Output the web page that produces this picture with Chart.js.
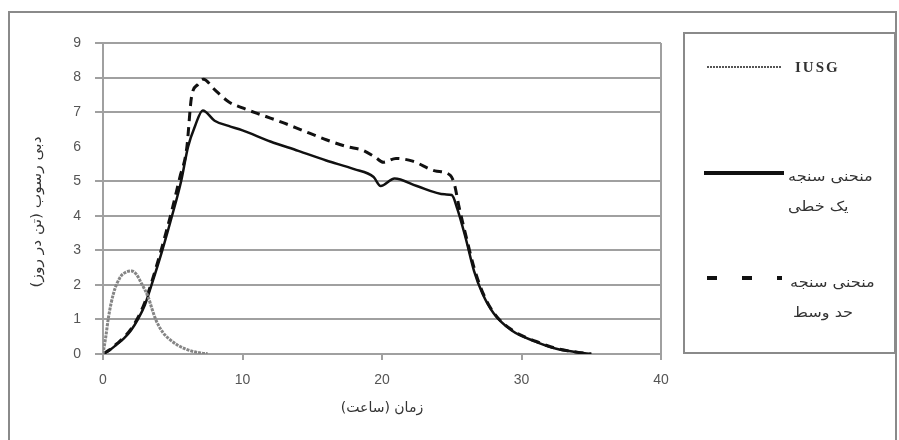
<!DOCTYPE html>
<html>
<head>
<meta charset="utf-8">
<script src="https://cdn.jsdelivr.net/npm/chart.js@4.4.1/dist/chart.umd.min.js"></script>
<style>
  html, body { margin: 0; padding: 0; background: #fff; }
  #wrap { width: 899px; height: 440px; position: relative; }
</style>
</head>
<body>
<div id="wrap"><canvas id="chart" width="899" height="440"></canvas></div>
<script>
// داده‌ها (خوانده شده از نمودار)
const xTicks = [0, 10, 20, 30, 40];
const yTicks = [0, 1, 2, 3, 4, 5, 6, 7, 8, 9];

const iusgX = [0, 0.2, 0.4, 0.75, 1.2, 1.6, 2.05, 2.4, 2.76, 3.24, 3.5, 3.83, 4.3, 4.7, 5.3, 5.9, 6.5, 7.0, 7.5];
const iusgY = [0, 0.5, 1.08, 1.75, 2.2, 2.36, 2.4, 2.3, 2.04, 1.65, 1.32, 0.95, 0.62, 0.45, 0.27, 0.15, 0.07, 0.03, 0.01];

const solidX = [0, 0.5, 1, 1.5, 2, 2.5, 3, 3.48, 4.25, 4.95, 5.6, 6.1, 6.6, 7.15, 8, 9, 10, 12, 14, 16, 18, 19.4, 19.9, 20.9, 22.5, 24.5, 25, 25.4, 26, 26.6, 27.2, 28, 29.3, 31, 32.5, 34, 35];
const solidY = [0, 0.12, 0.28, 0.45, 0.68, 1.0, 1.42, 2.0, 3.0, 4.0, 5.0, 6.0, 6.6, 7.05, 6.75, 6.6, 6.47, 6.15, 5.88, 5.6, 5.35, 5.12, 4.86, 5.08, 4.86, 4.62, 4.6, 4.2, 3.35, 2.4, 1.75, 1.18, 0.68, 0.36, 0.15, 0.05, 0];

const dashedX = [0, 0.5, 1, 1.5, 2, 2.5, 3, 3.5, 4.2, 4.9, 5.5, 6.0, 6.35, 6.8, 7.2, 8, 9, 10, 11.5, 13, 14.3, 16, 17.5, 18.6, 19.5, 20.1, 21, 22.2, 23.8, 24.9, 25.2, 25.5, 26, 26.6, 27.2, 28, 29.3, 31, 32.5, 34, 35];
const dashedY = [0, 0.13, 0.3, 0.48, 0.72, 1.05, 1.5, 2.1, 3.05, 4.1, 5.1, 5.95, 7.45, 7.8, 7.95, 7.65, 7.3, 7.12, 6.9, 6.68, 6.47, 6.2, 6.0, 5.9, 5.7, 5.55, 5.66, 5.58, 5.3, 5.17, 4.9, 4.3, 3.45, 2.5, 1.8, 1.2, 0.7, 0.37, 0.16, 0.05, 0];

const xTitle = 'زمان (ساعت)';
const yTitle = 'دبی رسوب (تن در روز)';

const toPoints = (xs, ys) => xs.map((x, i) => ({ x: x, y: ys[i] }));

const gridGray = '#a0a0a0';
const labelColor = '#555';

// خط شبکه ۶ در تصویر اصلی دیده نمی‌شود
const hideSix = (c) => (c.tick && Math.round(c.tick.value) === 6) || c.index === 6;

// قاب بیرونی، عنوان محور عمودی و راهنما
const framePlugin = {
    id: 'frameAndLegend',
    afterDraw(chart) {
        const ctx = chart.ctx;
        ctx.save();
        ctx.strokeStyle = '#8a8a8a';
        ctx.lineWidth = 2;
        ctx.strokeRect(9, 12, 887, 440);

        // عنوان محور عمودی
        ctx.save();
        ctx.translate(37, 212);
        ctx.rotate(-Math.PI / 2);
        ctx.scale(1.1, 1);
        ctx.fillStyle = '#333';
        ctx.font = '14px "DejaVu Sans"';
        ctx.textAlign = 'center';
        ctx.textBaseline = 'middle';
        ctx.fillText(yTitle, 0, 0);
        ctx.restore();

        // جعبه راهنما
        ctx.strokeRect(684, 33, 211, 320);

        // IUSG
        ctx.setLineDash([2, 1]);
        ctx.strokeStyle = '#555';
        ctx.lineWidth = 2;
        ctx.beginPath(); ctx.moveTo(707, 67); ctx.lineTo(782, 67); ctx.stroke();

        // یک خطی
        ctx.setLineDash([]);
        ctx.strokeStyle = '#111';
        ctx.lineWidth = 4;
        ctx.beginPath(); ctx.moveTo(704, 173); ctx.lineTo(784, 173); ctx.stroke();

        // حد وسط
        ctx.setLineDash([10, 25]);
        ctx.beginPath(); ctx.moveTo(707, 278); ctx.lineTo(782, 278); ctx.stroke();
        ctx.setLineDash([]);

        ctx.fillStyle = '#333';
        ctx.textBaseline = 'middle';
        ctx.textAlign = 'left';
        ctx.font = 'bold 15px "Liberation Serif"';
        ctx.letterSpacing = '2px';
        ctx.fillText('IUSG', 795, 68);
        ctx.letterSpacing = '0px';

        const legendText = [
            ['منحنی سنجه', 788, 177],
            ['یک خطی', 788, 207],
            ['منحنی سنجه', 790, 283],
            ['حد وسط', 793, 313]
        ];
        ctx.font = '14px "DejaVu Sans"';
        legendText.forEach(([t, x, y]) => {
            ctx.save();
            ctx.translate(x, y);
            ctx.scale(1.15, 1);
            ctx.fillText(t, 0, 0);
            ctx.restore();
        });
        ctx.restore();
    }
};

new Chart(document.getElementById('chart').getContext('2d'), {
    type: 'line',
    data: {
        datasets: [
            {
                label: 'IUSG',
                data: toPoints(iusgX, iusgY),
                borderColor: '#858585',
                borderWidth: 3,
                borderDash: [3, 1],
                pointRadius: 0,
                cubicInterpolationMode: 'monotone'
            },
            {
                label: 'منحنی سنجه یک خطی',
                data: toPoints(solidX, solidY),
                borderColor: '#111',
                borderWidth: 2.5,
                pointRadius: 0,
                cubicInterpolationMode: 'monotone'
            },
            {
                label: 'منحنی سنجه حد وسط',
                data: toPoints(dashedX, dashedY),
                borderColor: '#111',
                borderWidth: 3,
                borderDash: [9, 6],
                pointRadius: 0,
                cubicInterpolationMode: 'monotone'
            }
        ]
    },
    options: {
        responsive: false,
        animation: false,
        layout: { padding: { left: 12, right: 238, top: 43, bottom: 20 } },
        plugins: {
            legend: { display: false },
            tooltip: { enabled: false }
        },
        scales: {
            x: {
                type: 'linear',
                min: 0,
                max: 40,
                afterBuildTicks: (axis) => { axis.ticks = xTicks.map(v => ({ value: v })); },
                afterFit: (axis) => { axis.height = 66; },
                border: { display: true, color: gridGray, width: 2 },
                grid: {
                    color: (c) => c.tick && c.tick.value === 40 ? gridGray : 'transparent',
                    lineWidth: 2,
                    tickColor: gridGray,
                    tickLength: 6
                },
                ticks: {
                    color: labelColor,
                    font: { family: '"Liberation Sans", Arial', size: 14 },
                    padding: 12,
                    maxRotation: 0
                },
                title: {
                    display: true,
                    text: xTitle,
                    color: '#333',
                    font: { family: '"DejaVu Sans"', size: 14 },
                    padding: { top: 0, bottom: 3 }
                }
            },
            y: {
                min: 0,
                max: 9,
                afterBuildTicks: (axis) => { axis.ticks = yTicks.map(v => ({ value: v })); },
                afterFit: (axis) => { axis.width = 91; },
                border: { display: true, color: gridGray, width: 2 },
                grid: {
                    color: (c) => hideSix(c) ? 'rgba(0,0,0,0)' : gridGray,
                    tickColor: (c) => hideSix(c) ? 'rgba(0,0,0,0)' : gridGray,
                    lineWidth: 2,
                    tickLength: 8
                },
                ticks: {
                    color: labelColor,
                    font: { family: '"Liberation Sans", Arial', size: 14 },
                    padding: 14
                }
            }
        }
    },
    plugins: [framePlugin]
});
</script>
</body>
</html>
